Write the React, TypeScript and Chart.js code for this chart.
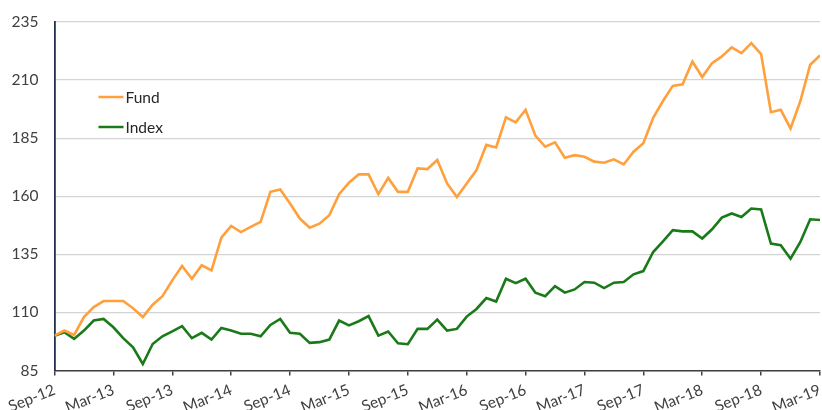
import React, { useEffect, useRef } from "react";
import { Chart, registerables } from "chart.js";

Chart.register(...registerables);

const tickLabels = [
  "Sep-12", "Mar-13", "Sep-13", "Mar-14", "Sep-14", "Mar-15", "Sep-15",
  "Mar-16", "Sep-16", "Mar-17", "Sep-17", "Mar-18", "Sep-18", "Mar-19",
];

const fund = [
  100, 102.2, 100.3, 108, 112.3, 114.9, 114.9, 114.9, 111.8, 108,
  113.3, 117, 123.8, 130, 124.5, 130.3, 128.1, 142.2, 147.2, 144.6,
  146.8, 149, 161.9, 162.9, 156.9, 150.4, 146.5, 148.2, 151.8, 160.9,
  165.8, 169.4, 169.4, 160.9, 167.9, 161.9, 161.9, 172, 171.7, 175.6,
  165.5, 159.7, 165.5, 171.3, 182.1, 181, 194, 191.8, 197.2, 186.1,
  181.3, 183.2, 176.6, 177.7, 177, 174.9, 174.4, 175.9, 173.7, 179.2,
  182.8, 193.8, 201, 207.5, 208.2, 218, 211.3, 217.3, 220.2, 224.1,
  221.6, 225.9, 221.2, 196.2, 197.2, 189.2, 201, 216.6, 220.6,
];

const index = [
  100, 101.5, 98.6, 102.2, 106.5, 107.2, 103.6, 98.9, 95, 87.8,
  96.4, 99.7, 101.8, 104.1, 98.9, 101.2, 98.3, 103.3, 102.2, 100.8,
  100.8, 99.7, 104.6, 107.2, 101.2, 100.8, 96.9, 97.2, 98.3, 106.5,
  104.4, 106.2, 108.4, 100, 101.8, 96.7, 96.3, 102.9, 102.9, 106.9,
  102.2, 102.9, 108.2, 111.5, 116.2, 114.7, 124.5, 122.6, 124.5, 118.5,
  117, 121.3, 118.5, 119.9, 123.1, 122.8, 120.5, 122.8, 123.1, 126.4,
  127.8, 136, 140.6, 145.4, 144.9, 144.9, 141.8, 145.8, 150.8, 152.6,
  151.1, 154.7, 154.3, 139.6, 138.9, 133.1, 140.3, 150.1, 149.8,
];

const seriesNames = ["Fund", "Index"];
const seriesColors = ["#FFA03C", "#1A7A1A"];
const FONT = "Lato, 'Open Sans', sans-serif";

const legendPlugin = {
  id: "insideLegend",
  afterDraw(chart: any) {
    const ctx = chart.ctx;
    const area = chart.chartArea;
    ctx.save();
    seriesNames.forEach((name, i) => {
      const y = area.top + 75 + i * 30;
      const x0 = area.left + 44;
      ctx.strokeStyle = seriesColors[i];
      ctx.lineWidth = 2.5;
      ctx.beginPath();
      ctx.moveTo(x0, y);
      ctx.lineTo(x0 + 25, y);
      ctx.stroke();
      ctx.fillStyle = "#262626";
      ctx.font = `15.5px ${FONT}`;
      ctx.textBaseline = "middle";
      ctx.textAlign = "left";
      ctx.fillText(name, x0 + 27, y + 1);
    });
    ctx.restore();
  },
};

export default function App() {
  const ref = useRef<HTMLCanvasElement | null>(null);

  useEffect(() => {
    document.body.style.margin = "0";
    if (!ref.current) return;
    const toPts = (arr: number[]) => arr.map((v, i) => ({ x: i, y: v }));
    const chart = new Chart(ref.current, {
      type: "line",
      data: {
        datasets: [
          {
            label: seriesNames[0],
            data: toPts(fund),
            borderColor: seriesColors[0],
            borderWidth: 2.6,
            pointRadius: 0,
            tension: 0,
          },
          {
            label: seriesNames[1],
            data: toPts(index),
            borderColor: seriesColors[1],
            borderWidth: 2.6,
            pointRadius: 0,
            tension: 0,
          },
        ],
      },
      options: {
        animation: false,
        responsive: false,
        maintainAspectRatio: false,
        layout: { padding: { top: 22, right: 2, left: 0, bottom: 0 } },
        plugins: { legend: { display: false }, tooltip: { enabled: false } },
        scales: {
          x: {
            type: "linear",
            min: 0,
            max: 78,
            afterFit: (s: any) => {
              s.height = 39.5;
              s.paddingRight = 0;
              s.paddingLeft = 0;
            },
            ticks: {
              stepSize: 6,
              autoSkip: false,
              minRotation: 22,
              maxRotation: 22,
              padding: 5,
              color: "#404040",
              font: { family: FONT, size: 15.5 },
              callback: (v: any) => {
                const k = Math.round(Number(v) / 6);
                return Number(v) % 6 === 0 ? tickLabels[k] : "";
              },
            },
            grid: {
              drawOnChartArea: false,
              drawTicks: true,
              tickLength: 5,
              color: "#404040",
              lineWidth: 1.5,
            },
            border: { color: "#404040", width: 1.5 },
          },
          y: {
            min: 85,
            max: 235,
            afterFit: (s: any) => {
              s.width = 54.5;
              s.paddingTop = 0;
              s.paddingBottom = 0;
            },
            ticks: {
              stepSize: 25,
              padding: 16,
              color: "#404040",
              font: { family: FONT, size: 15.5 },
            },
            grid: {
              color: "#D4D4D4",
              lineWidth: 1.3,
              drawTicks: false,
            },
            border: { color: "#1F3050", width: 1.8 },
          },
        },
      },
      plugins: [legendPlugin],
    });
    return () => chart.destroy();
  }, []);

  return (
    <div style={{ width: 822, height: 410, background: "#fff" }}>
      <canvas ref={ref} width={822} height={410} style={{ display: "block" }} />
    </div>
  );
}
